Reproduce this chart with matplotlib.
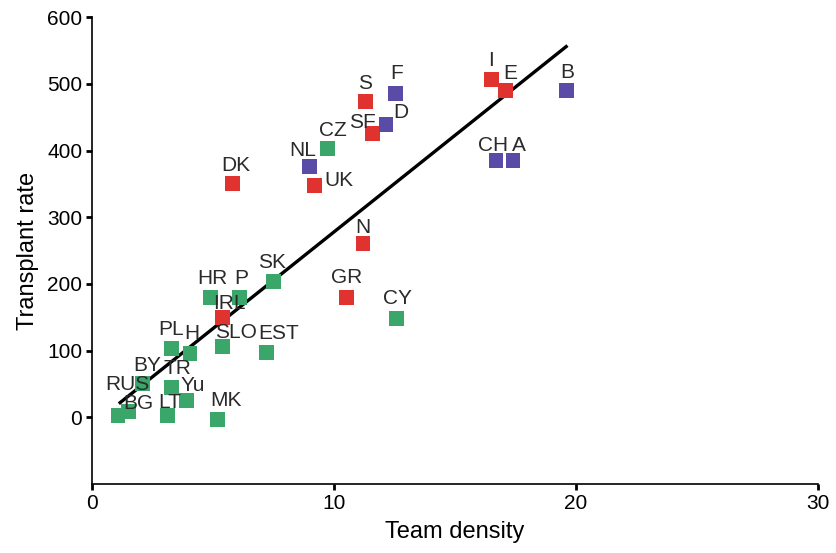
import numpy as np
import matplotlib.pyplot as plt

plt.rcParams['font.family'] = ['Liberation Sans', 'DejaVu Sans']

# country data: team density vs transplant rate, group code
countries = ['RUS', 'BG', 'BY', 'TR', 'Yu', 'LT', 'MK', 'PL', 'H', 'SLO', 'EST',
             'HR', 'P', 'IRL', 'SK', 'CY', 'GR', 'N', 'DK', 'NL', 'CZ', 'UK',
             'S', 'F', 'SF', 'D', 'I', 'E', 'B', 'CH', 'A']
team_density = [1.07, 1.5, 2.1, 3.3, 3.9, 3.1, 5.2, 3.3, 4.05, 5.4, 7.2,
                4.9, 6.1, 5.4, 7.5, 12.6, 10.5, 11.2, 5.8, 9.0, 9.75, 9.2,
                11.3, 12.55, 11.6, 12.15, 16.5, 17.1, 19.6, 16.7, 17.4]
transplant_rate = [3, 9, 51, 45, 25, 3, -3, 103, 96, 106, 97,
                   180, 180, 150, 204, 148, 180, 261, 351, 376, 403, 348,
                   474, 486, 426, 439, 507, 490, 490, 385, 385]
group = ['g', 'g', 'g', 'g', 'g', 'g', 'g', 'g', 'g', 'g', 'g',
         'g', 'g', 'r', 'g', 'g', 'r', 'r', 'r', 'b', 'g', 'r',
         'r', 'b', 'r', 'b', 'r', 'r', 'b', 'b', 'b']

# regression line end points
fit_x = [1.16, 19.6]
fit_y = [22, 556]

colors = {'g': '#3aa66a', 'r': '#e0332f', 'b': '#5a4ca6'}

# label offsets in pixels (dx, dy)
offsets = {'RUS': (9, 31), 'BG': (10, 8), 'BY': (4, 18), 'TR': (6, 19),
           'Yu': (6, 15), 'LT': (3, 13), 'MK': (8, 19), 'PL': (-1, 19),
           'H': (2, 20), 'SLO': (13, 14), 'EST': (12, 19), 'HR': (2, 19),
           'P': (2, 19), 'IRL': (7, 14), 'SK': (-1, 19), 'CY': (1, 20),
           'GR': (1, 20), 'N': (0, 16), 'DK': (3, 18), 'NL': (-7, 16),
           'CZ': (5, 18), 'UK': (24, 5), 'S': (0, 18), 'F': (1, 20),
           'SF': (-10, 11), 'D': (15, 12), 'I': (0, 19), 'E': (5, 17),
           'B': (1, 18), 'CH': (-3, 15), 'A': (6, 15)}

fig = plt.figure(figsize=(8.37, 5.53), dpi=100)
ax = fig.add_axes([0.110, 0.1248, 0.867, 0.844])

ax.plot(fit_x, fit_y, color='black', lw=2.4, zorder=2)
ax.scatter(team_density, transplant_rate, marker='s', s=115,
           c=[colors[g] for g in group], linewidths=0, zorder=3)

for name, x, y in zip(countries, team_density, transplant_rate):
    dx, dy = offsets[name]
    ax.annotate(name, (x, y), xytext=(dx, dy), textcoords='offset pixels',
                ha='center', va='center', fontsize=15, color='#2a2a2a',
                zorder=4)

ax.set_xlim(0, 30)
ax.set_ylim(-100, 600)
ax.set_xticks([0, 10, 20, 30])
ax.set_yticks([0, 100, 200, 300, 400, 500, 600])
ax.spines['top'].set_visible(False)
ax.spines['right'].set_visible(False)
ax.spines['left'].set_linewidth(1.2)
ax.spines['bottom'].set_linewidth(1.2)
ax.tick_params(direction='out', length=4, width=2, labelsize=15, pad=3)
ax.set_xlabel('Team density', fontsize=17, labelpad=6)
ax.set_ylabel('Transplant rate', fontsize=17, labelpad=6)

fig.savefig('out.png', dpi=100)
